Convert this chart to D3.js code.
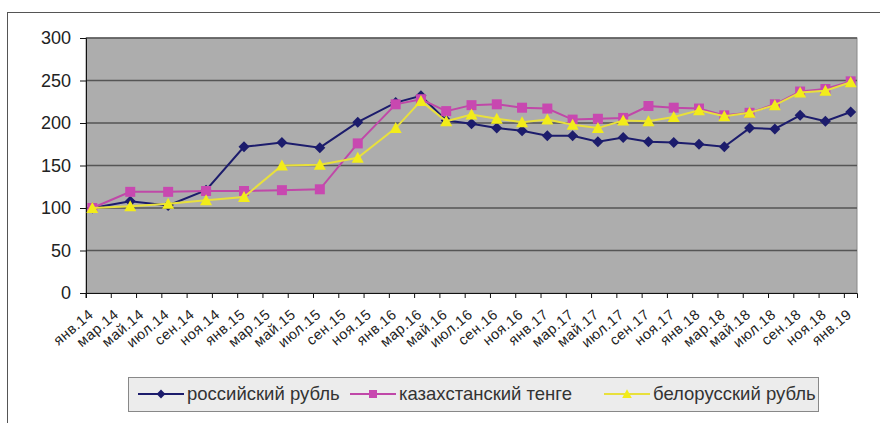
<!DOCTYPE html>
<html>
<head>
<meta charset="utf-8">
<script src="https://cdn.jsdelivr.net/npm/d3@7"></script>
<style>
  body { margin: 0; background: #fff; }
  svg { display: block; font-family: Arial, "Liberation Sans", sans-serif; }
</style>
</head>
<body>
<div id="chart"></div>
<script>
// data (index = 100 at янв.14)
var pointDates = ["2014-01","2014-04","2014-07","2014-10","2015-01","2015-04","2015-07","2015-10",
  "2016-01","2016-03","2016-05","2016-07","2016-09","2016-11","2017-01","2017-03","2017-05",
  "2017-07","2017-09","2017-11","2018-01","2018-03","2018-05","2018-07","2018-09","2018-11","2019-01"];
var rub = [100,108,103,121,172,177,171,201,224,232,203,199,194,191,185,185,178,183,178,177,175,172,194,193,209,202,213];
var kzt = [100,119,119,120,120,121,122,176,222,228,214,221,222,218,217,204,205,206,220,218,217,209,212,222,237,240,249];
var byn = [100,102,105,109,113,150,151,159,194,226,202,210,205,201,204,198,194,203,202,207,215,208,212,221,236,238,248];
var seriesNames = ["российский рубль", "казахстанский тенге", "белорусский рубль"];
var tickLabels = ["янв.14","мар.14","май.14","июл.14","сен.14","ноя.14",
  "янв.15","мар.15","май.15","июл.15","сен.15","ноя.15",
  "янв.16","мар.16","май.16","июл.16","сен.16","ноя.16",
  "янв.17","мар.17","май.17","июл.17","сен.17","ноя.17",
  "янв.18","мар.18","май.18","июл.18","сен.18","ноя.18","янв.19"];
var yTicks = [0, 50, 100, 150, 200, 250, 300];

var W = 880, H = 423;
var margin = {top: 38, right: 23, bottom: 130, left: 86},
    width = W - margin.left - margin.right,
    height = H - margin.top - margin.bottom;

var fmt = d3.timeFormat("%Y-%m");
var months = d3.timeMonth.range(new Date(2014, 0, 1), new Date(2019, 1, 1)).map(fmt);

var svg = d3.select("#chart")
  .append("svg")
    .attr("width", W)
    .attr("height", H);

// outer chart frame
svg.append("rect")
  .attr("x", 7.5).attr("y", 12.5)
  .attr("width", 900).attr("height", 500)
  .attr("fill", "none").attr("stroke", "#555");

var g = svg.append("g")
  .attr("transform", "translate(" + margin.left + "," + margin.top + ")");

var x = d3.scaleBand().domain(months).range([0, width]);
var y = d3.scaleLinear().domain([0, 300]).range([height, 0]);
var bw = x.bandwidth();
function px(d) { return x(d) + bw / 2; }

// plot area
g.append("rect")
  .attr("width", width).attr("height", height)
  .attr("fill", "#adadad").attr("stroke", "#888");

// gridlines
g.selectAll(".grid")
  .data(yTicks.filter(function(d) { return d > 0; }))
  .enter().append("line")
    .attr("x1", 0).attr("x2", width)
    .attr("y1", function(d) { return y(d); })
    .attr("y2", function(d) { return y(d); })
    .attr("stroke", "#555").attr("stroke-width", 1.5);

// Y axis
var yAxis = g.append("g")
  .call(d3.axisLeft(y).tickValues(yTicks).tickSize(6).tickPadding(9));
yAxis.selectAll("text").attr("font-size", 18).attr("fill", "#222");
yAxis.selectAll("line, path").attr("stroke", "#111");

// X axis
var xAxis = g.append("g")
  .attr("transform", "translate(0," + height + ")")
  .call(d3.axisBottom(x)
    .tickValues(months.filter(function(d, i) { return i % 2 === 0; }))
    .tickFormat(function(d, i) { return tickLabels[i]; })
    .tickSize(5));
xAxis.selectAll(".tick line").attr("x1", -bw / 2).attr("x2", -bw / 2).attr("stroke", "#111");
xAxis.select("path").attr("stroke", "#111");
xAxis.selectAll("text")
  .attr("font-size", 14.5).attr("fill", "#222")
  .attr("letter-spacing", 0.5)
  .attr("text-anchor", "end")
  .attr("x", 0).attr("y", 0).attr("dy", null)
  .attr("transform", "translate(2,23) rotate(-40)");

// markers
var diamond = "M0,-5.5L5.5,0L0,5.5L-5.5,0Z";
var square = "M-5,-5L5,-5L5,5L-5,5Z";
var triangle = "M0,-6L6,5L-6,5Z";

var series = [
  {name: seriesNames[0], values: rub, line: "#1c1c6c", fill: "#1c1c6c", shape: diamond},
  {name: seriesNames[1], values: kzt, line: "#c048a8", fill: "#c848b0", shape: square},
  {name: seriesNames[2], values: byn, line: "#e8e03c", fill: "#f2ec1a", shape: triangle}
];

var line = d3.line()
  .x(function(d) { return px(d.date); })
  .y(function(d) { return y(d.value); });

series.forEach(function(s) {
  var pts = pointDates.map(function(d, i) { return {date: d, value: s.values[i]}; });
  g.append("path")
    .datum(pts)
    .attr("fill", "none")
    .attr("stroke", s.line)
    .attr("stroke-width", 2)
    .attr("d", line);
  g.selectAll(null)
    .data(pts)
    .enter().append("path")
      .attr("d", s.shape)
      .attr("fill", s.fill)
      .attr("transform", function(d) { return "translate(" + px(d.date) + "," + y(d.value) + ")"; });
});

// legend
var legend = svg.append("g");
legend.append("rect")
  .attr("x", 128.5).attr("y", 377.5)
  .attr("width", 690).attr("height", 34)
  .attr("fill", "#ececec").attr("stroke", "#888");

var legendX = [138, 350, 604];
series.forEach(function(s, i) {
  var lx = legendX[i], ly = 394;
  legend.append("line")
    .attr("x1", lx).attr("x2", lx + 46)
    .attr("y1", ly).attr("y2", ly)
    .attr("stroke", s.line).attr("stroke-width", 2);
  legend.append("path")
    .attr("d", s.shape)
    .attr("fill", s.fill)
    .attr("transform", "translate(" + (lx + 23) + "," + ly + ") scale(0.8)");
  legend.append("text")
    .attr("x", lx + 49).attr("y", ly + 6)
    .attr("font-size", 18.5).attr("fill", "#333")
    .text(s.name);
});
</script>
</body>
</html>
